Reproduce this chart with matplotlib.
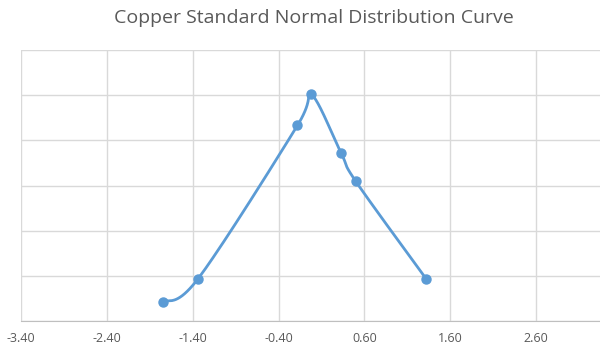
import numpy as np
import matplotlib
matplotlib.use("Agg")
import matplotlib.pyplot as plt

title = "Copper Standard Normal Distribution Curve"
x_vals = [-1.75, -1.34, -0.18, -0.02, 0.33, 0.50, 1.32]
y_vals = [0.042, 0.093, 0.433, 0.502, 0.371, 0.309, 0.093]
x_ticks = [-3.40, -2.40, -1.40, -0.40, 0.60, 1.60, 2.60, 3.60]
x_tick_labels = ["-3.40", "-2.40", "-1.40", "-0.40", "0.60", "1.60", "2.60", ""]
y_ticks = [0.0, 0.1, 0.2, 0.3, 0.4, 0.5, 0.6]

plt.rcParams['font.family'] = ['Open Sans', 'DejaVu Sans']

fig = plt.figure(figsize=(6, 3.51), dpi=100)
W, H = 600, 351
left_px, right_px, top_px, bot_px = 21, 622, 50, 321
ax = fig.add_axes([left_px / W, 1 - bot_px / H, (right_px - left_px) / W, (bot_px - top_px) / H])

xmin, xmax = x_ticks[0], x_ticks[-1]
ymin, ymax = y_ticks[0], y_ticks[-1]
ax.set_xlim(xmin, xmax)
ax.set_ylim(ymin, ymax)

# Excel-like smoothing (Catmull-Rom / Bezier) in screen space
sx = (right_px - left_px) / (xmax - xmin)
sy = (bot_px - top_px) / (ymax - ymin)
P = np.column_stack([np.array(x_vals) * sx, np.array(y_vals) * sy])
n = len(P)
curve = []
for i in range(n - 1):
    p0 = P[i - 1] if i > 0 else P[i]
    p1 = P[i]
    p2 = P[i + 1]
    p3 = P[i + 2] if i + 2 < n else P[i + 1]
    c1 = p1 + (p2 - p0) / 6.0
    c2 = p2 - (p3 - p1) / 6.0
    t = np.linspace(0, 1, 40)[:, None]
    seg = (1 - t) ** 3 * p1 + 3 * (1 - t) ** 2 * t * c1 + 3 * (1 - t) * t ** 2 * c2 + t ** 3 * p2
    curve.append(seg if i == 0 else seg[1:])
curve = np.vstack(curve)
cx = curve[:, 0] / sx
cy = curve[:, 1] / sy

color = '#5B9BD5'
ax.plot(cx, cy, color=color, lw=2.0, solid_capstyle='round', zorder=3)
ax.plot(x_vals, y_vals, 'o', color=color, ms=6.5, zorder=4)

ax.set_xticks(x_ticks)
ax.set_xticklabels(x_tick_labels)
ax.set_yticks(y_ticks)
ax.set_yticklabels([])
ax.grid(True, color='#D9D9D9', lw=1.0)
ax.set_axisbelow(True)
for s in ['top', 'right', 'left']:
    ax.spines[s].set_visible(False)
ax.spines['bottom'].set_color('#BFBFBF')
ax.tick_params(axis='both', length=0, colors='#595959', labelsize=9, pad=8)
ax.tick_params(axis='y', pad=0)

fig.text(314 / W, 1 - 18 / H, title, ha='center', va='center', fontsize=14, color='#595959')

fig.savefig("out.png", dpi=100)
